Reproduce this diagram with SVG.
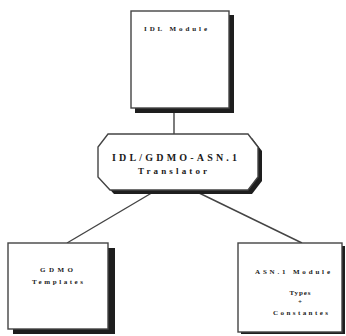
<svg xmlns="http://www.w3.org/2000/svg" width="346" height="336" viewBox="0 0 346 336">
<style>
.box{fill:#fff;stroke:#444;stroke-width:1.4}
.shadow{fill:#1e1e1e}
.t{font-family:"Liberation Serif","Times New Roman",serif;font-weight:bold;fill:#1a1a1a;text-anchor:middle}
.s{font-size:7px}
.l{font-size:10px}
.m{font-size:9px}
.conn{stroke:#444;stroke-width:1.4;fill:none}
</style>
<rect width="346" height="336" fill="#fff"/>
<g id="connectors">
<line class="conn" x1="174" y1="112" x2="174" y2="134"/>
<line class="conn" x1="155" y1="191" x2="67" y2="243"/>
<line class="conn" x1="195" y1="191" x2="302" y2="243"/>
</g>
<g id="idl-module">
<rect class="shadow" x="135" y="15" width="99" height="98"/>
<rect class="box" x="131" y="11" width="98" height="97"/>
<text class="t s" x="175.5" y="31" textLength="63" lengthAdjust="spacing">IDL Module</text>
</g>
<g id="translator">
<polygon class="shadow" points="112,138 252,138 262,151 262,181 252,194 114,194 102,181 102,151"/>
<polygon class="box" points="108,134 248,134 258,147 258,177 248,190 110,190 98,177 98,147"/>
<text class="t l" x="174.5" y="161" textLength="125" lengthAdjust="spacing">IDL/GDMO-ASN.1</text>
<text class="t m" x="172.5" y="174" textLength="69" lengthAdjust="spacing">Translator</text>
</g>
<g id="gdmo-templates">
<rect class="shadow" x="13" y="248" width="102" height="86"/>
<rect class="box" x="8" y="243" width="100" height="86"/>
<text class="t s" x="56.5" y="272" textLength="33" lengthAdjust="spacing">GDMO</text>
<text class="t s" x="57.5" y="284" textLength="51" lengthAdjust="spacing">Templates</text>
</g>
<g id="asn-module">
<rect class="shadow" x="241" y="246" width="104" height="88"/>
<rect class="box" x="238" y="243" width="104" height="89"/>
<text class="t s" x="292.5" y="274" textLength="75" lengthAdjust="spacing">ASN.1 Module</text>
<text class="t s" x="300" y="295" textLength="21" lengthAdjust="spacing">Types</text>
<text class="t s" x="300" y="304">+</text>
<text class="t s" x="300.5" y="315" textLength="55" lengthAdjust="spacing">Constantes</text>
</g>
</svg>
